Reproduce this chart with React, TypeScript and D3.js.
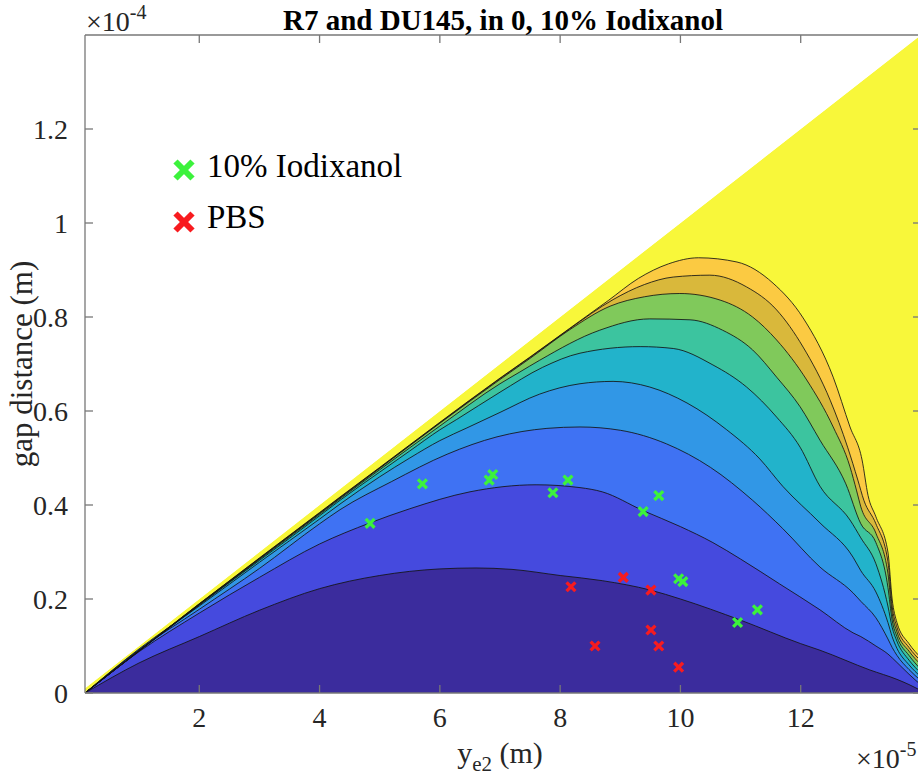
import React from 'react';
import * as d3 from 'd3';

// Contour lines of the field, x in units of 1e-5 m (y_e2), y in units of 1e-4 m (gap distance).
// Each list runs from the lower-left tip of the triangle to the right edge of the plot.
const level1: [number, number][] = [[0.1,0],[1,0.064],[2,0.12],[3,0.176],[4,0.222],[5,0.25],[6,0.264],[6.6,0.266],[7.2,0.263],[8,0.25],[8.7,0.239],[9.5,0.219],[10,0.2],[11,0.155],[12,0.105],[12.32,0.091],[13.15,0.049],[13.6,0.029],[13.8,0.018],[14,0.005]];
const level2: [number, number][] = [[0.1,0],[1,0.088],[2,0.17],[3,0.246],[4,0.317],[4.84,0.362],[5.5,0.392],[6.5,0.428],[7.6,0.443],[8.33,0.437],[8.7,0.428],[9.38,0.388],[10,0.354],[10.54,0.32],[11,0.285],[11.65,0.232],[12.32,0.177],[12.87,0.128],[13,0.12],[13.25,0.1],[13.45,0.083],[13.6,0.065],[13.8,0.04],[14,0.017]];
const level3: [number, number][] = [[0.1,0],[1,0.092],[2,0.178],[3,0.265],[4,0.36],[4.34,0.39],[5.2,0.45],[6.12,0.508],[6.95,0.545],[7.78,0.563],[8.33,0.566],[9,0.559],[9.77,0.53],[10.5,0.48],[11.2,0.41],[11.7,0.35],[12.32,0.268],[12.87,0.213],[13,0.195],[13.25,0.16],[13.45,0.115],[13.52,0.097],[13.6,0.08],[13.8,0.05],[14,0.026]];
const level4: [number, number][] = [[0.1,0],[1,0.094],[2,0.185],[3,0.278],[4,0.37],[4.34,0.402],[5,0.46],[5.5,0.5],[6,0.537],[6.45,0.564],[7,0.597],[7.66,0.636],[8.33,0.658],[8.88,0.663],[9.49,0.651],[10.11,0.617],[10.77,0.56],[11.32,0.498],[11.7,0.44],[12.32,0.362],[12.87,0.289],[13,0.26],[13.25,0.215],[13.45,0.15],[13.52,0.12],[13.6,0.095],[13.8,0.06],[14,0.034]];
const level5: [number, number][] = [[0.1,0],[2,0.187],[4,0.377],[4.34,0.41],[5,0.47],[5.5,0.515],[6,0.56],[6.28,0.582],[7,0.64],[7.71,0.693],[8.33,0.723],[9.33,0.737],[9.88,0.733],[10.54,0.698],[11.1,0.651],[11.6,0.587],[11.99,0.523],[12.32,0.44],[12.82,0.368],[13,0.33],[13.25,0.275],[13.45,0.185],[13.52,0.14],[13.6,0.11],[13.8,0.07],[14,0.042]];
const level6: [number, number][] = [[0.1,0],[2,0.188],[4,0.38],[4.34,0.413],[5,0.475],[6,0.568],[7,0.658],[7.33,0.683],[7.66,0.708],[8.66,0.772],[9.49,0.796],[10.16,0.794],[10.7,0.772],[11.2,0.73],[11.6,0.672],[11.99,0.609],[12.32,0.538],[12.75,0.445],[13,0.36],[13.25,0.32],[13.45,0.225],[13.52,0.155],[13.6,0.12],[13.8,0.08],[14,0.05]];
const level7: [number, number][] = [[0.1,0],[2,0.189],[4,0.382],[4.34,0.415],[5,0.478],[6,0.574],[7,0.667],[7.5,0.712],[8.16,0.773],[8.83,0.823],[9.4,0.843],[9.99,0.85],[10.66,0.836],[11.2,0.8],[11.6,0.751],[12.1,0.666],[12.54,0.566],[12.82,0.481],[12.93,0.43],[13,0.396],[13.25,0.34],[13.45,0.255],[13.52,0.17],[13.6,0.13],[13.8,0.089],[14,0.06]];
const level8: [number, number][] = [[0.1,0],[2,0.1895],[4,0.383],[4.34,0.416],[5,0.479],[6,0.575],[7,0.669],[7.5,0.714],[8.16,0.775],[8.88,0.837],[9.4,0.869],[9.88,0.885],[10.49,0.889],[11.1,0.864],[11.6,0.815],[12.04,0.736],[12.49,0.623],[12.78,0.523],[12.95,0.453],[13.05,0.41],[13.25,0.36],[13.45,0.28],[13.52,0.185],[13.6,0.14],[13.8,0.097],[14,0.068]];
const level9: [number, number][] = [[0.1,0],[2,0.19],[4,0.384],[4.34,0.417],[5,0.48],[6,0.576],[7,0.67],[7.5,0.715],[8.16,0.776],[8.8,0.835],[9.3,0.882],[9.8,0.913],[10.3,0.926],[10.94,0.917],[11.54,0.872],[12.04,0.798],[12.54,0.672],[12.82,0.566],[13.02,0.496],[13.12,0.42],[13.25,0.375],[13.45,0.3],[13.52,0.2],[13.6,0.15],[13.8,0.105],[14,0.075]];

const contourLevels = [level1, level2, level3, level4, level5, level6, level7, level8, level9];

// Band colours (parula), lowest band first; the last one fills above the top contour.
const bandColors = ['#3b2c9d', '#454ade', '#3f72f3', '#3197e6', '#22b3cb', '#3cc49f', '#80c95b', '#d9b83b', '#fbca42', '#f8f73a'];

// Measured cases
const iodixanolX = [4.84, 5.71, 6.82, 6.88, 7.88, 8.13, 9.38, 9.64, 9.97, 10.04, 10.95, 11.28];
const iodixanolY = [0.361, 0.445, 0.453, 0.465, 0.426, 0.453, 0.386, 0.42, 0.243, 0.237, 0.15, 0.177];
const pbsX = [8.18, 9.05, 9.51, 9.51, 8.58, 9.64, 9.97];
const pbsY = [0.226, 0.246, 0.219, 0.134, 0.1, 0.1, 0.055];

const legendLabels = ['10% Iodixanol', 'PBS'];
const markerColors = ['#3cf23c', '#f81b1f'];

const xTicks = [2, 4, 6, 8, 10, 12];
const yTicks = [0, 0.2, 0.4, 0.6, 0.8, 1, 1.2];
const yTickLabels = ['0', '0.2', '0.4', '0.6', '0.8', '1', '1.2'];

const xMin = 0.1;
const xMax = 14;
const yMax = 1.4;

const W = 918;
const H = 778;
const left = 85;
const right = 921;
const top = 35;
const bottom = 693;

const FONT = '"Liberation Serif", "Times New Roman", Times, serif';

function Cross({ cx, cy, r, w, color }: { cx: number; cy: number; r: number; w: number; color: string }) {
  return (
    <g stroke={color} strokeWidth={w} strokeLinecap="butt">
      <line x1={cx - r} y1={cy - r} x2={cx + r} y2={cy + r} />
      <line x1={cx - r} y1={cy + r} x2={cx + r} y2={cy - r} />
    </g>
  );
}

export default function App() {
  const x = d3.scaleLinear().domain([xMin, xMax]).range([left, right]);
  const y = d3.scaleLinear().domain([0, yMax]).range([bottom, top]);

  const line = d3
    .line<[number, number]>()
    .x((d) => x(d[0]))
    .y((d) => y(d[1]))
    .curve(d3.curveMonotoneX);

  // Valid domain: gap distance not larger than y_e2 (y = x in metres)
  const triangle = `M${x(xMin)},${y(0)}L${x(xMin)},${y(xMin / 10)}L${x(xMax)},${y(xMax / 10)}L${x(xMax)},${y(0)}Z`;

  const regionUnder = (pts: [number, number][]) => {
    const last = pts[pts.length - 1];
    return `${line(pts)}L${x(last[0])},${y(0)}L${x(pts[0][0])},${y(0)}Z`;
  };

  const axisColor = '#777777';
  const textColor = '#262626';
  const tickLen = 8;

  return (
    <svg
      width={W}
      height={H}
      viewBox={`0 0 ${W} ${H}`}
      style={{ position: 'absolute', left: 0, top: 0, background: '#ffffff' }}
      fontFamily={FONT}
    >
      <defs>
        <clipPath id="domainClip">
          <path d={triangle} />
        </clipPath>
      </defs>

      <g clipPath="url(#domainClip)">
        <path d={triangle} fill={bandColors[9]} />
        {contourLevels
          .map((pts, i) => ({ pts, i }))
          .reverse()
          .map(({ pts, i }) => (
            <path key={`fill-${i}`} d={regionUnder(pts)} fill={bandColors[i]} />
          ))}
        {contourLevels.map((pts, i) => (
          <path
            key={`line-${i}`}
            d={line(pts) || ''}
            fill="none"
            stroke="#141414"
            strokeWidth={1}
            strokeOpacity={0.85}
          />
        ))}
      </g>

      {/* measured points */}
      {iodixanolX.map((v, i) => (
        <Cross key={`g-${i}`} cx={x(v)} cy={y(iodixanolY[i])} r={4.4} w={3.3} color={markerColors[0]} />
      ))}
      {pbsX.map((v, i) => (
        <Cross key={`r-${i}`} cx={x(v)} cy={y(pbsY[i])} r={4.4} w={3.3} color={markerColors[1]} />
      ))}

      {/* axes box and ticks */}
      <g stroke={axisColor} strokeWidth={1.3} fill="none">
        <line x1={left} y1={top} x2={right} y2={top} />
        <line x1={left} y1={bottom} x2={right} y2={bottom} />
        <line x1={left} y1={top} x2={left} y2={bottom} />
        <line x1={right} y1={top} x2={right} y2={bottom} />
        {xTicks.map((t) => (
          <g key={`xt-${t}`}>
            <line x1={x(t)} y1={bottom} x2={x(t)} y2={bottom - tickLen} />
            <line x1={x(t)} y1={top} x2={x(t)} y2={top + tickLen} />
          </g>
        ))}
        {yTicks.map((t) => (
          <g key={`yt-${t}`}>
            <line x1={left} y1={y(t)} x2={left + tickLen} y2={y(t)} />
            <line x1={right} y1={y(t)} x2={right - tickLen} y2={y(t)} />
          </g>
        ))}
      </g>

      {/* tick labels */}
      <g fill={textColor} fontSize={28}>
        {xTicks.map((t) => (
          <text key={`xl-${t}`} x={x(t)} y={727} textAnchor="middle">
            {t}
          </text>
        ))}
        {yTicks.map((t, i) => (
          <text key={`yl-${t}`} x={68} y={y(t)} textAnchor="end" dominantBaseline="central">
            {yTickLabels[i]}
          </text>
        ))}
      </g>

      {/* exponent labels */}
      <text x={86} y={31} fontSize={28} fill={textColor}>
        ×10<tspan fontSize={20} dy={-12}>-4</tspan>
      </text>
      <text x={856} y={768} fontSize={28} fill={textColor}>
        ×10<tspan fontSize={20} dy={-12}>-5</tspan>
      </text>

      {/* axis labels */}
      <text x={(left + right) / 2 - 3} y={763} fontSize={30} fill={textColor} textAnchor="middle">
        y<tspan fontSize={21} dy={8}>e2</tspan>
        <tspan dy={-8}> (m)</tspan>
      </text>
      <text
        transform={`translate(32,${(top + bottom) / 2}) rotate(-90)`}
        fontSize={31}
        fill={textColor}
        textAnchor="middle"
      >
        gap distance (m)
      </text>

      {/* title */}
      <text x={(left + right) / 2} y={30} fontSize={29} fontWeight="bold" fill="#000000" textAnchor="middle">
        R7 and DU145, in 0, 10% Iodixanol
      </text>

      {/* legend */}
      {legendLabels.map((lab, i) => (
        <g key={`leg-${i}`}>
          <Cross cx={184} cy={170 + i * 52} r={8.5} w={6} color={markerColors[i]} />
          <text x={207} y={177 + i * 51} fontSize={33} fill="#000000">
            {lab}
          </text>
        </g>
      ))}
    </svg>
  );
}
